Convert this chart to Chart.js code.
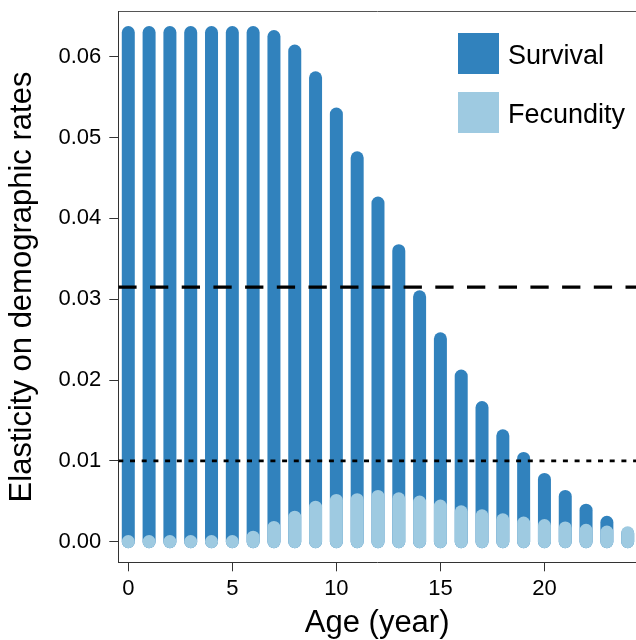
<!DOCTYPE html>
<html>
<head>
<meta charset="utf-8">
<script src="https://cdn.jsdelivr.net/npm/chart.js@4.4.1/dist/chart.umd.min.js"></script>
<style>
  html, body { margin: 0; padding: 0; background: #fff; overflow: hidden; }
  #wrap { position: relative; width: 636px; height: 640px; }
  #legend { position: absolute; left: 458px; top: 33px; font-family: 'Liberation Sans', Arial, Helvetica, sans-serif; font-size: 27px; color: #000; }
  #legend .row { display: flex; align-items: center; height: 41px; margin-bottom: 18px; }
  #legend .box { width: 41px; height: 41px; margin-right: 9px; }
  #legend .lab { position: relative; top: 2px; white-space: nowrap; }
</style>
</head>
<body>
<div id="wrap">
  <canvas id="elasticityChart" width="636" height="640"></canvas>
  <div id="legend"></div>
</div>
<script>
// Data
const ages = [0, 1, 2, 3, 4, 5, 6, 7, 8, 9, 10, 11, 12, 13, 14, 15, 16, 17, 18, 19, 20, 21, 22, 23, 24];
const survival = [0.0630, 0.0630, 0.0630, 0.0630, 0.0630, 0.0630, 0.0630, 0.0625, 0.0607, 0.0574,
                  0.0529, 0.0475, 0.0419, 0.0360, 0.0303, 0.0251, 0.0205, 0.0166, 0.0131, 0.0103,
                  0.0077, 0.0056, 0.0039, 0.0024, 0.0010];
const fecundity = [0.00002, 0.00002, 0.00002, 0.00002, 0.00002, 0.00002, 0.00056, 0.00176, 0.00303, 0.00427,
                   0.0051, 0.0052, 0.0056, 0.0053, 0.0049, 0.0044, 0.0037, 0.0032, 0.0027, 0.0023,
                   0.0020, 0.0017, 0.0014, 0.0012, 0.0011];
const seriesNames = ['Survival', 'Fecundity'];
const seriesColors = ['#3182bd', '#9ecae1'];
const dashedLevel = 0.0315;
const dottedLevel = 0.01;
const xTicks = [0, 5, 10, 15, 20];
const yTicks = [0, 0.01, 0.02, 0.03, 0.04, 0.05, 0.06];

const X_MIN = -0.48, X_MAX = 24.4;
const Y_MIN = -0.00255, Y_MAX = 0.06557;
const FONT = "'Liberation Sans', Arial, Helvetica, sans-serif";

// one thick round-capped segment per age, like R's lwd/lend bars
function stems(values, color, name, order) {
  return values.map((v, i) => ({
    label: name,
    data: [{ x: ages[i], y: 0 }, { x: ages[i], y: v }],
    borderColor: color,
    borderWidth: 13,
    borderCapStyle: 'round',
    pointRadius: 0,
    order: order
  }));
}

function hline(level, dash, width) {
  return {
    label: 'ref',
    data: [{ x: X_MIN, y: level }, { x: X_MAX, y: level }],
    borderColor: '#000',
    borderWidth: width,
    borderDash: dash,
    pointRadius: 0,
    order: 0
  };
}

const datasets = [
  hline(dashedLevel, [18.3, 13.4], 3.3),
  hline(dottedLevel, [5, 6.7], 2.7),
  ...stems(fecundity, seriesColors[1], seriesNames[1], 1),
  ...stems(survival, seriesColors[0], seriesNames[0], 2)
];

// drop the label overhang padding so the plot box sits where R put it
function noPad(s) {
  s.paddingTop = 0; s.paddingBottom = 0; s.paddingLeft = 0; s.paddingRight = 0;
}

const ctx = document.getElementById('elasticityChart').getContext('2d');
const chart = new Chart(ctx, {
  type: 'line',
  data: { datasets: datasets },
  options: {
    responsive: false,
    animation: false,
    devicePixelRatio: 1,
    layout: { padding: 0 },
    plugins: { legend: { display: false }, tooltip: { enabled: false } },
    scales: {
      x: {
        type: 'linear',
        position: 'bottom',
        min: X_MIN,
        max: X_MAX,
        afterFit: s => { s.height = 77.7; noPad(s); },
        afterBuildTicks: s => { s.ticks = xTicks.map(v => ({ value: v })); },
        ticks: { color: '#000', font: { family: FONT, size: 22 }, padding: 4, maxRotation: 0, autoSkip: false },
        grid: { drawOnChartArea: false, drawTicks: true, tickLength: 9, color: '#333' },
        border: { display: true, color: '#333', width: 1 },
        title: { display: true, text: 'Age (year)', color: '#000', font: { family: FONT, size: 31, lineHeight: 1 }, padding: { top: 0, bottom: 1.5 } }
      },
      xTop: {
        type: 'linear',
        position: 'top',
        min: X_MIN,
        max: X_MAX,
        afterFit: s => { s.height = 11.7; noPad(s); },
        ticks: { display: false },
        grid: { display: false },
        border: { display: true, color: '#555', width: 1 }
      },
      y: {
        type: 'linear',
        min: Y_MIN,
        max: Y_MAX,
        afterFit: s => { s.width = 118.3; noPad(s); },
        afterBuildTicks: s => { s.ticks = yTicks.map(v => ({ value: v })); },
        ticks: { color: '#000', font: { family: FONT, size: 22 }, padding: 8, callback: v => v.toFixed(2) },
        grid: { drawOnChartArea: false, drawTicks: true, tickLength: 9, color: '#333' },
        border: { display: true, color: '#333', width: 1 },
        title: { display: true, text: 'Elasticity on demographic rates', color: '#000', font: { family: FONT, size: 31, lineHeight: 1 }, padding: { top: 7, bottom: 0 } }
      }
    }
  }
});

// Legend
const legendDiv = document.getElementById('legend');
seriesNames.forEach((name, i) => {
  legendDiv.innerHTML += `<div class="row"><div class="box" style="background:${seriesColors[i]}"></div><span class="lab">${name}</span></div>`;
});
</script>
</body>
</html>
